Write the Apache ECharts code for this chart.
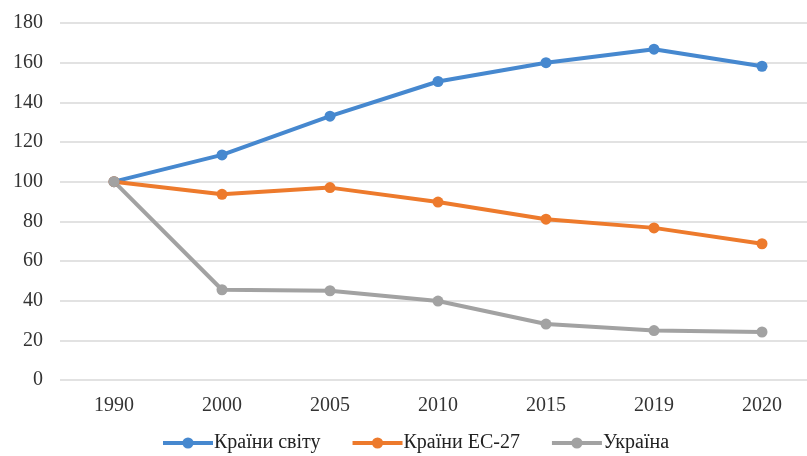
<!DOCTYPE html>
<html>
<head>
<meta charset="utf-8">
<script src="https://cdn.jsdelivr.net/npm/echarts@6/dist/echarts.min.js"></script>
<style>
  html, body { margin: 0; padding: 0; background: #fff; overflow: hidden; }
  /* the drawing is a little wider than the window; its right edge is clipped */
  #chart { width: 816px; height: 456px; }
</style>
</head>
<body>
<div id="chart"></div>
<script>
// Index values (1990 = 100)
const years = ['1990', '2000', '2005', '2010', '2015', '2019', '2020'];
const worldValues = [100, 113.5, 133, 150.5, 160, 166.8, 158.2];
const eu27Values = [100, 93.6, 97, 89.7, 81.1, 76.7, 68.7];
const ukraineValues = [100, 45.5, 45, 39.8, 28.2, 24.9, 24.2];
const yTicks = { min: 0, max: 180, interval: 20 };

const seriesDefs = [
  { name: 'Країни світу', data: worldValues, color: '#4688cf' },
  { name: 'Країни ЕС-27', data: eu27Values, color: '#ed7a2c' },
  { name: 'Україна', data: ukraineValues, color: '#a2a2a2' }
];

const font = '"Liberation Serif", "DejaVu Serif", serif';
const chart = echarts.init(document.getElementById('chart'));
chart.setOption({
  animation: false,
  backgroundColor: '#ffffff',
  textStyle: { fontFamily: font },
  grid: { left: 60, top: 23, right: 0, bottom: 76, containLabel: false },
  legend: {
    top: 433,
    left: 161,
    padding: 0,
    itemWidth: 50,
    itemHeight: 14,
    itemGap: 30,
    lineStyle: { width: 4 },
    textStyle: { fontFamily: font, fontSize: 20, color: '#222', padding: [0, 0, 0, -4] },
    data: seriesDefs.map(s => s.name)
  },
  xAxis: {
    type: 'category',
    data: years,
    boundaryGap: true,
    axisLine: { show: false },
    axisTick: { show: false },
    axisLabel: { fontFamily: font, fontSize: 20, color: '#333', margin: 16 }
  },
  yAxis: {
    type: 'value',
    min: yTicks.min,
    max: yTicks.max,
    interval: yTicks.interval,
    axisLine: { show: false },
    axisTick: { show: false },
    axisLabel: { fontFamily: font, fontSize: 20, color: '#333', margin: 17 },
    splitLine: { lineStyle: { color: '#d9d9d9', width: 1.5 } }
  },
  series: seriesDefs.map(s => ({
    name: s.name,
    type: 'line',
    data: s.data,
    symbol: 'circle',
    symbolSize: 11,
    lineStyle: { width: 4, color: s.color },
    itemStyle: { color: s.color },
    z: 2
  }))
});
</script>
</body>
</html>
